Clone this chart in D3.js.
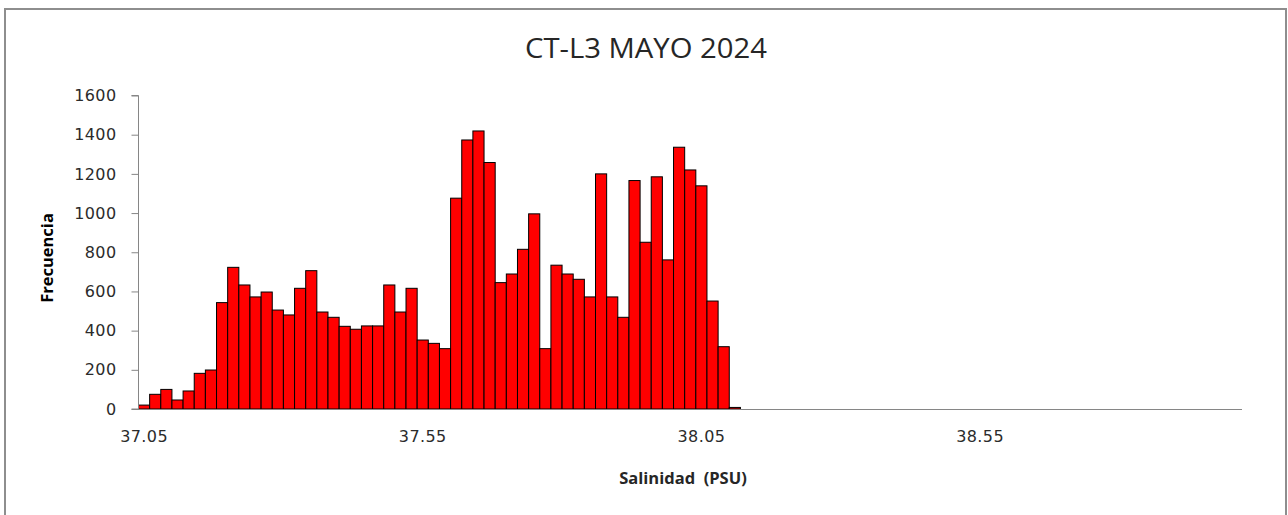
<!DOCTYPE html>
<html>
<head>
<meta charset="utf-8">
<script src="https://cdn.jsdelivr.net/npm/d3@7"></script>
<style>
  html, body { margin: 0; padding: 0; background: #ffffff; }
  svg { display: block; }
</style>
</head>
<body>
<script>
// ---- data ----
const chartTitle = "CT-L3 MAYO 2024";
const xTitle = "Salinidad  (PSU)";
const yTitle = "Frecuencia";
const binStart = 37.05;      // first bin label
const binStep = 0.02;        // bin width
const binCount = 99;         // categories on the axis
const frequencies = [
  20, 75, 100, 46, 92, 182, 199, 543, 723, 633,
  572, 597, 505, 480, 616, 706, 495, 468, 422, 407,
  424, 424, 633, 495, 616, 352, 335, 308, 1076, 1373,
  1419, 1258, 645, 689, 815, 996, 308, 734, 689, 662,
  572, 1200, 572, 468, 1166, 851, 1185, 761, 1336, 1220,
  1139, 551, 318, 8
];
const xTickLabels = ["37.05", "37.55", "38.05", "38.55"];
const yTicks = [0, 200, 400, 600, 800, 1000, 1200, 1400, 1600];

// ---- layout ----
const W = 1288, H = 515;
const plot = { left: 138.5, right: 1242, top: 95.5, bottom: 409 };

const categories = d3.range(binCount).map(i => (binStart + i * binStep).toFixed(2));
const data = categories.map((c, i) => ({ cat: c, value: i < frequencies.length ? frequencies[i] : 0 }));

const svg = d3.select("body").append("svg").attr("width", W).attr("height", H);

// chart border
svg.append("path")
  .attr("d", `M5,${H + 5} L5,9 L1286,9 L1286,${H + 5}`)
  .attr("fill", "none").attr("stroke", "#8e8e8e").attr("stroke-width", 2);

const x = d3.scaleBand().domain(categories).range([plot.left, plot.right]).padding(0);
const y = d3.scaleLinear().domain([0, 1600]).range([plot.bottom, plot.top]);

// bars
svg.append("g").selectAll("rect")
  .data(data.filter(d => d.value > 0))
  .join("rect")
  .attr("x", d => x(d.cat))
  .attr("y", d => y(d.value))
  .attr("width", x.bandwidth())
  .attr("height", d => y(0) - y(d.value))
  .attr("fill", "#ff0000")
  .attr("stroke", "#000000")
  .attr("stroke-width", 1);

const tickFont = g => g.selectAll(".tick text").attr("fill", "#2b2b2b")
  .style("font-family", "'DejaVu Sans', Verdana, sans-serif")
  .style("font-size", "16px").style("letter-spacing", "0.4px");

// y axis
const yAxis = d3.axisLeft(y).tickValues(yTicks).tickSize(7).tickPadding(15).tickFormat(d3.format("d"));
const gy = svg.append("g").attr("transform", `translate(${plot.left},0)`).call(yAxis);
gy.select(".domain").attr("stroke", "#868686").attr("d", `M-7,${plot.top}H0V${plot.bottom}H-7`);
gy.selectAll(".tick line").attr("stroke", "#868686");
gy.call(tickFont);

// x axis (category axis, labels every 25 bins)
const xAxis = d3.axisBottom(x)
  .tickValues(xTickLabels)
  .tickSize(0).tickPadding(22);
const gx = svg.append("g").attr("transform", `translate(0,${plot.bottom})`).call(xAxis);
gx.select(".domain").attr("stroke", "#868686").attr("d", `M${plot.left},0.5H${plot.right}`);
gx.call(tickFont);

// title
svg.append("text")
  .attr("x", 646).attr("y", 58)
  .attr("text-anchor", "middle")
  .attr("fill", "#262626")
  .style("font-family", "'Open Sans', sans-serif").style("font-size", "27px")
  .attr("textLength", 242).attr("lengthAdjust", "spacingAndGlyphs")
  .text(chartTitle);

// x title
svg.append("text")
  .attr("x", 683).attr("y", 484)
  .attr("text-anchor", "middle")
  .attr("fill", "#262626")
  .style("white-space", "pre")
  .style("font-family", "'Open Sans', sans-serif").style("font-size", "16.5px").style("font-weight", "bold")
  .text(xTitle);

// y title
svg.append("text")
  .attr("transform", "translate(53,258) rotate(-90)")
  .attr("text-anchor", "middle")
  .attr("fill", "#000000")
  .style("font-family", "'Open Sans', sans-serif").style("font-size", "16.5px").style("font-weight", "bold")
  .text(yTitle);
</script>
</body>
</html>
